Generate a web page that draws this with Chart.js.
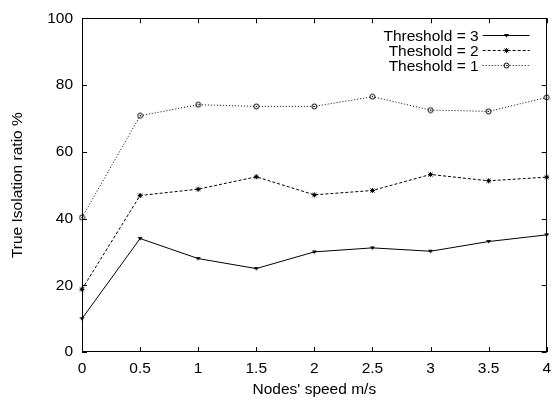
<!DOCTYPE html>
<html>
<head>
<meta charset="utf-8">
<script src="https://cdn.jsdelivr.net/npm/chart.js@4"></script>
<style>
  html, body { margin: 0; padding: 0; background: #fff; }
  #wrap { width: 558px; height: 403px; }
</style>
</head>
<body>
<div id="wrap"><canvas id="isoChart"></canvas></div>
<script>
// values
const speedLabels = ["0", "0.5", "1", "1.5", "2", "2.5", "3", "3.5", "4"];
const threshold3 = [10, 34, 28, 25, 30, 31.2, 30.2, 33.1, 35.1];
const threshold2 = [18.8, 46.9, 48.8, 52.5, 47.1, 48.4, 53.2, 51.3, 52.4];
const threshold1 = [40.3, 70.8, 74.1, 73.6, 73.6, 76.5, 72.5, 72.1, 76.3];
const yTicks = [0, 20, 40, 60, 80, 100];

const FONT = "'Liberation Sans', Arial, Helvetica, sans-serif";
const FSIZE = 15.5;

// small marker images used as point styles
function makeMarker(kind) {
    const c = document.createElement('canvas');
    c.width = 7;
    c.height = 7;
    const g = c.getContext('2d');
    g.strokeStyle = '#000';
    g.fillStyle = '#000';
    g.lineWidth = 1;
    if (kind === 'tri') {
        g.beginPath();
        g.moveTo(1, 2);
        g.lineTo(6, 2);
        g.lineTo(3.5, 5.5);
        g.closePath();
        g.fill();
    } else if (kind === 'star') {
        g.beginPath();
        g.moveTo(1.5, 1.5); g.lineTo(5.5, 5.5);
        g.moveTo(5.5, 1.5); g.lineTo(1.5, 5.5);
        g.moveTo(3.5, 1); g.lineTo(3.5, 6);
        g.moveTo(1, 3.5); g.lineTo(6, 3.5);
        g.stroke();
    } else {
        g.beginPath();
        g.arc(3.5, 3.5, 2.5, 0, Math.PI * 2);
        g.stroke();
        g.fillRect(3, 3, 1, 1);
    }
    return c;
}

const markers = {
    tri: makeMarker('tri'),
    star: makeMarker('star'),
    circ: makeMarker('circ')
};

// box around the plot with gnuplot style inward ticks, plus the legend
const frameAndLegend = {
    id: 'frameAndLegend',
    afterDraw(chart) {
        const ctx = chart.ctx;
        const a = chart.chartArea;
        const xs = chart.scales.x;
        const ys = chart.scales.y;
        const tick = 5;
        ctx.save();
        ctx.strokeStyle = '#000';
        ctx.lineWidth = 1;
        ctx.strokeRect(Math.round(a.left) + 0.5, Math.round(a.top) + 0.5,
            Math.round(a.right - a.left) - 1, Math.round(a.bottom - a.top) - 1);
        ctx.beginPath();
        speedLabels.forEach((l, i) => {
            const px = Math.round(xs.getPixelForValue(i)) + 0.5;
            ctx.moveTo(px, a.bottom); ctx.lineTo(px, a.bottom - tick);
            ctx.moveTo(px, a.top); ctx.lineTo(px, a.top + tick);
        });
        yTicks.forEach(v => {
            const py = Math.round(ys.getPixelForValue(v)) + 0.5;
            ctx.moveTo(a.left, py); ctx.lineTo(a.left + tick, py);
            ctx.moveTo(a.right, py); ctx.lineTo(a.right - tick, py);
        });
        ctx.stroke();

        // legend: text right-aligned, then a line sample with its marker
        ctx.font = FSIZE + 'px ' + FONT;
        ctx.fillStyle = '#000';
        ctx.textAlign = 'right';
        ctx.textBaseline = 'middle';
        const textRight = a.right - 68;
        const x0 = a.right - 64, x1 = a.right - 17;
        chart.data.datasets.forEach((ds, i) => {
            const y = a.top + 17 + i * 15;
            ctx.fillText(ds.label, textRight, y + 1);
            ctx.setLineDash(ds.borderDash || []);
            ctx.beginPath();
            ctx.moveTo(x0, Math.round(y) + 0.5);
            ctx.lineTo(x1, Math.round(y) + 0.5);
            ctx.stroke();
            ctx.setLineDash([]);
            const m = ds.pointStyle;
            ctx.drawImage(m, Math.round((x0 + x1) / 2 - m.width / 2), Math.round(y - m.height / 2 + 0.5));
        });
        ctx.restore();
    }
};

function lineSet(label, data, dash, marker) {
    return {
        label: label,
        data: data,
        borderColor: '#000',
        backgroundColor: '#000',
        borderWidth: 1,
        borderDash: dash,
        tension: 0,
        fill: false,
        pointStyle: marker,
        pointRadius: 3,
        pointHoverRadius: 3
    };
}

const ctx = document.getElementById('isoChart');
new Chart(ctx, {
    type: 'line',
    data: {
        labels: speedLabels,
        datasets: [
            lineSet('Threshold = 3', threshold3, [], markers.tri),
            lineSet('Theshold = 2', threshold2, [3, 2], markers.star),
            lineSet('Theshold = 1', threshold1, [1, 2], markers.circ)
        ]
    },
    options: {
        responsive: true,
        maintainAspectRatio: false,
        animation: false,
        clip: false,
        layout: {
            padding: { left: 0, right: 8, top: 16, bottom: 0 }
        },
        scales: {
            x: {
                type: 'category',
                offset: false,
                grid: { display: false, drawTicks: false },
                border: { display: false },
                ticks: {
                    color: '#000',
                    font: { family: FONT, size: FSIZE },
                    padding: 7,
                    autoSkip: false,
                    maxRotation: 0,
                    minRotation: 0
                },
                title: {
                    display: true,
                    text: "Nodes' speed m/s",
                    color: '#000',
                    font: { family: FONT, size: FSIZE },
                    padding: { top: 0, bottom: 3.5 }
                },
                afterFit(scale) { scale.height = 51; }
            },
            y: {
                min: 0,
                max: 100,
                grid: { display: false, drawTicks: false },
                border: { display: false },
                afterBuildTicks(scale) {
                    scale.ticks = yTicks.map(v => ({ value: v }));
                },
                ticks: {
                    color: '#000',
                    font: { family: FONT, size: FSIZE },
                    padding: 9
                },
                title: {
                    display: true,
                    text: 'True Isolation ratio %',
                    color: '#000',
                    font: { family: FONT, size: FSIZE },
                    padding: { top: 8, bottom: 0 }
                },
                afterFit(scale) { scale.width = 82; }
            }
        },
        plugins: {
            legend: { display: false },
            tooltip: { enabled: false }
        }
    },
    plugins: [frameAndLegend]
});
</script>
</body>
</html>
